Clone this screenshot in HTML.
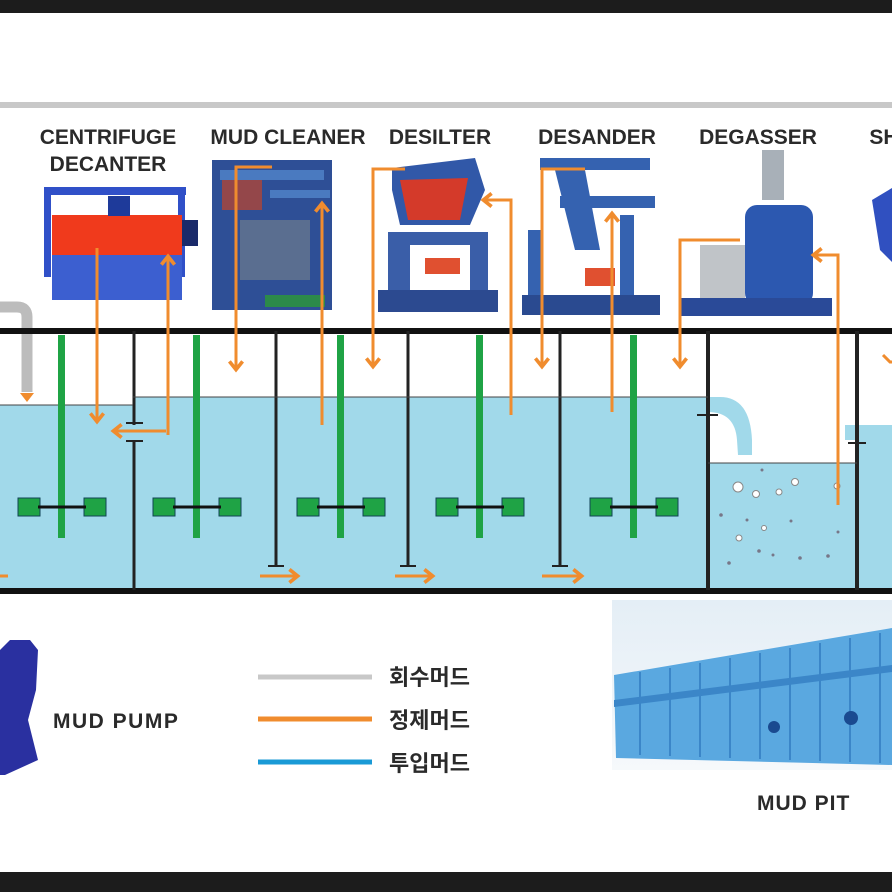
<!DOCTYPE html>
<html><head><meta charset="utf-8"><style>
html,body{margin:0;padding:0;background:#fff;}
svg{display:block}
text{font-family:"Liberation Sans","Noto Sans CJK KR",sans-serif;font-weight:bold;fill:#2a2a2a}
</style></head><body>
<svg width="892" height="892" viewBox="0 0 892 892" xmlns="http://www.w3.org/2000/svg">
<defs>
<marker id="ah" viewBox="0 0 10 10" refX="5" refY="5" markerWidth="5.5" markerHeight="5.5" orient="auto-start-reverse">
<path d="M1,1 L6,5 L1,9" fill="none" stroke="#f08c2e" stroke-width="2.2"/></marker>
<linearGradient id="pitbg" x1="0" y1="0" x2="0" y2="1"><stop offset="0" stop-color="#e4eef6"/><stop offset="1" stop-color="#f6f9fb"/></linearGradient>
</defs>
<rect width="892" height="892" fill="#fff"/>
<rect x="0" y="0" width="892" height="13" fill="#1c1c1c"/>
<rect x="0" y="872" width="892" height="20" fill="#1c1c1c"/>
<rect x="0" y="102" width="892" height="6" fill="#c8c8c8"/>

<!-- labels -->
<g font-size="21" text-anchor="middle">
<text x="108" y="144">CENTRIFUGE</text>
<text x="108" y="171">DECANTER</text>
<text x="288" y="144">MUD CLEANER</text>
<text x="440" y="144">DESILTER</text>
<text x="597" y="144">DESANDER</text>
<text x="758" y="144">DEGASSER</text>
<text x="884" y="144">SH</text>
</g>

<!-- centrifuge -->
<rect x="44" y="187" width="142" height="8" fill="#3050c8"/>
<rect x="44" y="187" width="7" height="90" fill="#3050c8"/>
<rect x="178" y="187" width="7" height="90" fill="#3050c8"/>
<rect x="52" y="215" width="130" height="50" fill="#f03a1c"/>
<rect x="52" y="255" width="130" height="45" fill="#3c5fd0"/>
<rect x="108" y="196" width="22" height="20" fill="#1e3a9a"/>
<rect x="182" y="220" width="16" height="26" fill="#1a2a6a"/>
<!-- mud cleaner -->
<rect x="212" y="160" width="120" height="150" fill="#2e4f96"/>
<rect x="220" y="170" width="104" height="10" fill="#4a7ac0"/>
<rect x="270" y="190" width="60" height="8" fill="#4a7ac0"/>
<rect x="222" y="180" width="40" height="30" fill="#c0452a" opacity=".7"/>
<rect x="240" y="220" width="70" height="60" fill="#5a6e90"/>
<rect x="265" y="295" width="60" height="12" fill="#2c8a4a"/>
<!-- desilter -->
<path d="M392 168 L475 158 L485 190 L470 225 L400 225 L392 190Z" fill="#3158a8"/>
<path d="M400 180 L468 178 L460 220 L408 220Z" fill="#d43a2a"/>
<rect x="388" y="232" width="100" height="70" fill="#3a5ea8"/>
<rect x="410" y="245" width="60" height="45" fill="#fff"/>
<rect x="425" y="258" width="35" height="16" fill="#e05030"/>
<rect x="378" y="290" width="120" height="22" fill="#2c4a90"/>
<!-- desander -->
<rect x="540" y="158" width="110" height="12" fill="#3562b0"/>
<rect x="560" y="196" width="95" height="12" fill="#3562b0"/>
<path d="M555 170 L585 170 L600 250 L575 250Z" fill="#3562b0"/>
<rect x="528" y="230" width="14" height="75" fill="#3562b0"/>
<rect x="620" y="215" width="14" height="90" fill="#3562b0"/>
<rect x="522" y="295" width="138" height="20" fill="#2a4a90"/>
<rect x="585" y="268" width="30" height="18" fill="#e05030"/>
<!-- degasser -->
<rect x="762" y="150" width="22" height="50" fill="#a8b0b8"/>
<rect x="745" y="205" width="68" height="100" rx="12" fill="#2c58b0"/>
<rect x="700" y="245" width="45" height="55" fill="#c0c4c8"/>
<rect x="680" y="298" width="152" height="18" fill="#2a4a98"/>
<path d="M872 200 L892 188 L892 262 L880 250Z" fill="#3050c0"/>

<!-- tank water -->
<rect x="0" y="405" width="133" height="185" fill="#a1d9ea"/>
<rect x="133" y="397" width="575" height="193" fill="#a1d9ea"/>
<rect x="708" y="463" width="149" height="127" fill="#a1d9ea"/>
<rect x="857" y="425" width="35" height="165" fill="#a1d9ea"/>
<path d="M708 397 L720 397 Q750 397 752 440 L752 455 L738 455 L737 440 Q735 412 708 412Z" fill="#a1d9ea"/>
<path d="M845 425 L857 425 L857 440 L845 440Z" fill="#a1d9ea"/>

<path d="M0 307 L17 307 Q27 307 27 317 L27 392" fill="none" stroke="#bcbcbc" stroke-width="11"/>
<path d="M20 393 L34 393 L27 402Z" fill="#f08c2e"/>

<rect x="0" y="328" width="892" height="6" fill="#111"/>
<rect x="0" y="588" width="892" height="6" fill="#111"/>
<g stroke="#222" stroke-width="3">
<line x1="134" y1="331" x2="134" y2="425"/><line x1="134" y1="440" x2="134" y2="590"/>
<line x1="276" y1="331" x2="276" y2="565"/>
<line x1="408" y1="331" x2="408" y2="565"/>
<line x1="560" y1="331" x2="560" y2="565"/>
<line x1="708" y1="331" x2="708" y2="590" stroke-width="4"/>
<line x1="857" y1="331" x2="857" y2="590" stroke-width="4"/>
</g>
<g stroke="#222" stroke-width="2">
<line x1="126" y1="423" x2="143" y2="423"/><line x1="126" y1="441" x2="143" y2="441"/>
<line x1="268" y1="566" x2="284" y2="566"/><line x1="400" y1="566" x2="416" y2="566"/><line x1="552" y1="566" x2="568" y2="566"/>
<line x1="697" y1="415" x2="718" y2="415"/><line x1="848" y1="443" x2="866" y2="443"/>
</g>
<line x1="0" y1="405" x2="133" y2="405" stroke="#444" stroke-width="1"/>
<line x1="133" y1="397" x2="708" y2="397" stroke="#444" stroke-width="1"/>
<line x1="708" y1="463" x2="857" y2="463" stroke="#444" stroke-width="1"/>

<g>
<g id="mx"><rect x="58" y="335" width="7" height="203" fill="#1fa345"/><rect x="18" y="498" width="22" height="18" fill="#1fa345" stroke="#145" stroke-width="1"/><rect x="84" y="498" width="22" height="18" fill="#1fa345" stroke="#145" stroke-width="1"/><line x1="38" y1="507" x2="86" y2="507" stroke="#111" stroke-width="3"/></g>
<use href="#mx" x="135"/><use href="#mx" x="279"/><use href="#mx" x="418"/><use href="#mx" x="572"/>
</g>

<g fill="#fff" stroke="#888" stroke-width="1">
<circle cx="738" cy="487" r="5"/><circle cx="756" cy="494" r="3.5"/><circle cx="779" cy="492" r="3"/><circle cx="795" cy="482" r="3.5"/><circle cx="739" cy="538" r="3"/><circle cx="764" cy="528" r="2.5"/><circle cx="837" cy="486" r="3"/>
</g>
<g fill="#778">
<circle cx="762" cy="470" r="1.5"/><circle cx="721" cy="515" r="1.8"/><circle cx="747" cy="520" r="1.5"/><circle cx="791" cy="521" r="1.5"/><circle cx="759" cy="551" r="1.8"/><circle cx="773" cy="555" r="1.5"/><circle cx="800" cy="558" r="1.8"/><circle cx="828" cy="556" r="1.8"/><circle cx="729" cy="563" r="1.8"/><circle cx="838" cy="532" r="1.5"/>
</g>

<g fill="none" stroke="#f08c2e" stroke-width="3">
<path d="M97 248 L97 420" marker-end="url(#ah)"/>
<path d="M168 435 L168 258" marker-end="url(#ah)"/>
<path d="M166 431 L115 431" marker-end="url(#ah)"/>
<path d="M272 167 L236 167 L236 368" marker-end="url(#ah)"/>
<path d="M322 425 L322 205" marker-end="url(#ah)"/>
<path d="M405 169 L373 169 L373 365" marker-end="url(#ah)"/>
<path d="M511 415 L511 200 L485 200" marker-end="url(#ah)"/>
<path d="M585 169 L542 169 L542 365" marker-end="url(#ah)"/>
<path d="M612 412 L612 215" marker-end="url(#ah)"/>
<path d="M740 240 L680 240 L680 365" marker-end="url(#ah)"/>
<path d="M838 505 L838 255 L815 255" marker-end="url(#ah)"/>
<path d="M883 355 L890 362 L892 362"/>
<path d="M0 576 L8 576"/>
<path d="M260 576 L296 576" marker-end="url(#ah)"/>
<path d="M395 576 L431 576" marker-end="url(#ah)"/>
<path d="M542 576 L580 576" marker-end="url(#ah)"/>
</g>

<path d="M0 650 L10 640 L30 640 L38 650 L36 690 L28 720 L38 760 L5 775 L0 775Z" fill="#2a30a0"/>
<text x="53" y="728" font-size="21" letter-spacing="1.5">MUD PUMP</text>
<line x1="258" y1="677" x2="372" y2="677" stroke="#c8c8c8" stroke-width="5"/>
<line x1="258" y1="719" x2="372" y2="719" stroke="#f08c2e" stroke-width="5"/>
<line x1="258" y1="762" x2="372" y2="762" stroke="#1a9ad6" stroke-width="5"/>
<g font-size="22"><text x="389" y="685">회수머드</text><text x="389" y="728">정제머드</text><text x="389" y="771">투입머드</text></g>
<rect x="612" y="600" width="280" height="170" fill="url(#pitbg)"/>
<path d="M614 675 L892 628 L892 765 L616 758Z" fill="#5aa8e0"/>
<path d="M614 700 L892 665 L892 672 L614 707Z" fill="#3b86c8"/>
<g stroke="#3b86c8" stroke-width="2">
<line x1="640" y1="672" x2="640" y2="755"/><line x1="670" y1="668" x2="670" y2="756"/><line x1="700" y1="663" x2="700" y2="757"/><line x1="730" y1="658" x2="730" y2="758"/><line x1="760" y1="653" x2="760" y2="759"/><line x1="790" y1="648" x2="790" y2="760"/><line x1="820" y1="643" x2="820" y2="761"/><line x1="850" y1="638" x2="850" y2="762"/><line x1="880" y1="633" x2="880" y2="763"/>
</g>
<circle cx="774" cy="727" r="6" fill="#1a4a90"/><circle cx="851" cy="718" r="7" fill="#1a4a90"/>
<text x="757" y="810" font-size="21" letter-spacing="1">MUD PIT</text>
</svg>
</body></html>
